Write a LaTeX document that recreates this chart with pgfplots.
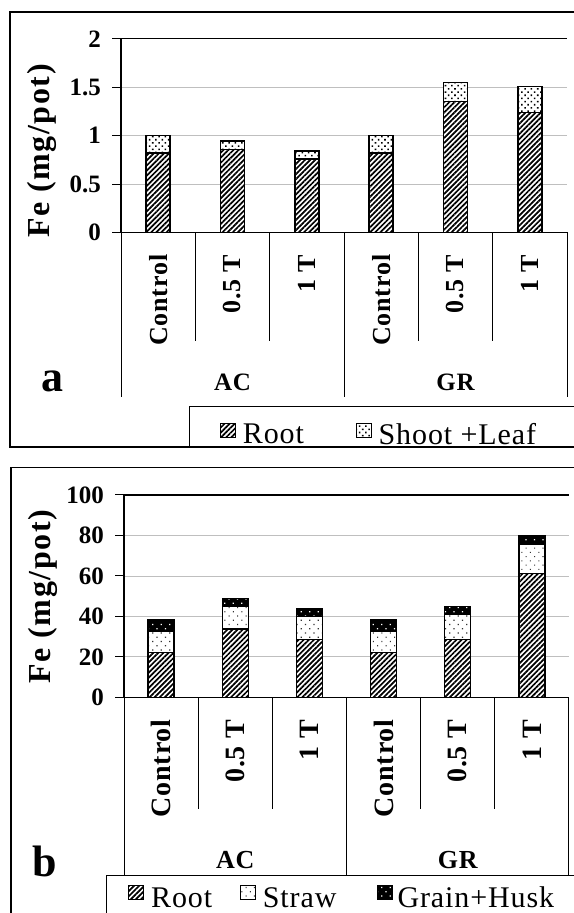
\documentclass[border=0pt]{standalone}
\usepackage{pgfplots}
\pgfplotsset{compat=1.18}
\usepackage{pgfplotstable}
\usetikzlibrary{patterns,patterns.meta}
\usepackage{fontspec}
\setmainfont{Liberation Serif}
\newfontfamily\ylabfont[LetterSpace=5]{Liberation Serif}
\newfontfamily\catfont[LetterSpace=3]{Liberation Serif}
\newfontfamily\legfont[LetterSpace=3]{Liberation Serif}

\pgfplotstableread{
x root shoot
0 0.82 0.18
1 0.86 0.085
2 0.76 0.08
3 0.82 0.18
4 1.35 0.20
5 1.24 0.265
}\dataA
\pgfplotstableread{
x root straw grain
0 22.1 10.4 5.7
1 33.8 11.3 3.8
2 28.7 11.2 3.8
3 22.1 10.4 5.7
4 28.7 12.3 3.8
5 61.3 14.5 3.9
}\dataB

\pgfplotsset{
  common/.style={
    scale only axis, anchor=south west, clip=false,
    ybar stacked,
    xmin=-0.5, xmax=5.5, ymin=0,
    axis x line*=bottom, axis y line*=left,
    axis line style={line width=1.3pt},
    xtick={0,1,2,3,4,5},
    xticklabels={Control,0.5 T,1 T,Control,0.5 T,1 T},
    xtick style={draw=none},
    xticklabel style={rotate=90, anchor=east, inner sep=0pt},
    xticklabel shift=13pt,
    ytick style={black, line width=1pt},
    tick align=outside, major tick length=9pt,
    yticklabel style={font=\bfseries\fontsize{25}{25}\selectfont, inner sep=0pt},
    yticklabel shift=11pt,
    /pgf/number format/assume math mode=true,
    ymajorgrids, grid style={black!25, line width=0.7pt},
    every axis plot/.append style={draw=black, line width=1.4pt},
    legend style={draw=none, fill=none, inner sep=0pt,
      font=\legfont\fontsize{30}{30}\selectfont,
      nodes={inner sep=0pt}},
    legend cell align=left,
  },
  lega/.style={legend image code/.code={\draw[##1, line width=1pt] (0pt,-3pt) rectangle (15pt,11pt);}},
  legb/.style={legend image code/.code={\draw[##1, line width=1pt] (0pt,-1pt) rectangle (15pt,13pt);}},
  rootst/.style={fill=white, postaction={pattern={Lines[angle=45,distance=3.6pt,line width=1.7pt]}, pattern color=black}},
  shootst/.style={fill=white, postaction={pattern={Dots[distance=4.5pt,radius=1.1pt,angle=45]}, pattern color=black}},
  strawst/.style={fill=white, postaction={pattern={Dots[distance=6pt,radius=0.8pt,angle=45]}, pattern color=black!80}},
  grainst/.style={fill=black, postaction={pattern={Dots[distance=6pt,radius=0.9pt,angle=45]}, pattern color=white}},
}

\begin{document}
\begin{tikzpicture}
\useasboundingbox (0,0) rectangle (573pt,913pt);
% outer frames
\draw[line width=1.2pt] (10pt,466pt) rectangle (590pt,901pt);
\draw[line width=1.2pt] (11pt,-10pt) rectangle (590pt,445.7pt);

% ---------- panel a ----------
\begin{axis}[common,
  at={(121pt,680.5pt)}, width=446pt, height=193.7pt,
  ymax=2, ytick={0,0.5,1,1.5,2}, bar width=24pt,
  xticklabel style={font=\catfont\bfseries\fontsize{26}{26}\selectfont},
  legend columns=2,
  legend style={at={(axis description cs:0.2220,-1.0439)}, anchor=west,
    /tikz/column 1/.style={column sep=6.7pt},
    /tikz/column 2/.style={column sep=52pt},
    /tikz/column 3/.style={column sep=6.7pt}},
]
\addplot[rootst, lega] table[x=x,y=root]{\dataA};
\addplot[shootst, lega] table[x=x,y=shoot]{\dataA};
\legend{Root,Shoot +Leaf}
\draw[line width=1.3pt] (rel axis cs:0,1) -- (rel axis cs:1,1);
\pgfplotsinvokeforeach{0.5,1.5,3.5,4.5}{\draw[line width=1pt] (axis cs:#1,0) -- ++(0pt,-108.5pt);}
\pgfplotsinvokeforeach{-0.5,2.5,5.5}{\draw[line width=1pt] (axis cs:#1,0) -- ++(0pt,-165pt);}
\node[font=\catfont\bfseries\fontsize{25}{25}\selectfont] at ([yshift=-150pt]axis cs:1,0) {AC};
\node[font=\catfont\bfseries\fontsize{25}{25}\selectfont] at ([yshift=-150pt]axis cs:4,0) {GR};
\end{axis}
\node[rotate=90, font=\ylabfont\bfseries\fontsize{32}{32}\selectfont] at (41.5pt,762pt) {Fe (mg/pot)};
\node[anchor=base, font=\bfseries\fontsize{44}{44}\selectfont] at (52pt,521pt) {a};
\draw[line width=0.9pt] (189pt,466pt) rectangle (590pt,506.3pt);

% ---------- panel b ----------
\begin{axis}[common,
  at={(124pt,215.7pt)}, width=445pt, height=202.3pt,
  ymax=100, ytick={0,20,40,60,80,100}, bar width=26pt,
  xticklabel style={font=\catfont\bfseries\fontsize{28}{28}\selectfont},
  legend columns=3,
  legend style={at={(axis description cs:0.0096,-0.9871)}, anchor=west,
    /tikz/column 1/.style={column sep=6.7pt},
    /tikz/column 2/.style={column sep=28pt},
    /tikz/column 3/.style={column sep=6.7pt},
    /tikz/column 4/.style={column sep=40pt},
    /tikz/column 5/.style={column sep=5pt}},
]
\addplot[rootst, legb] table[x=x,y=root]{\dataB};
\addplot[strawst, legb] table[x=x,y=straw]{\dataB};
\addplot[grainst, legb] table[x=x,y=grain]{\dataB};
\legend{Root,Straw,Grain+Husk}
\draw[line width=1.3pt] (rel axis cs:0,1) -- (rel axis cs:1,1);
\pgfplotsinvokeforeach{0.5,1.5,3.5,4.5}{\draw[line width=1pt] (axis cs:#1,0) -- ++(0pt,-112pt);}
\pgfplotsinvokeforeach{-0.5,2.5,5.5}{\draw[line width=1pt] (axis cs:#1,0) -- ++(0pt,-177.7pt);}
\node[font=\catfont\bfseries\fontsize{26}{26}\selectfont] at ([yshift=-162.7pt]axis cs:1,0) {AC};
\node[font=\catfont\bfseries\fontsize{26}{26}\selectfont] at ([yshift=-162.7pt]axis cs:4,0) {GR};
\end{axis}
\node[rotate=90, font=\ylabfont\bfseries\fontsize{32}{32}\selectfont] at (43pt,316.5pt) {Fe (mg/pot)};
\node[anchor=base, font=\bfseries\fontsize{44}{44}\selectfont] at (45pt,36pt) {b};
\draw[line width=0.9pt] (106.7pt,-10pt) rectangle (590pt,38pt);
\end{tikzpicture}
\end{document}
